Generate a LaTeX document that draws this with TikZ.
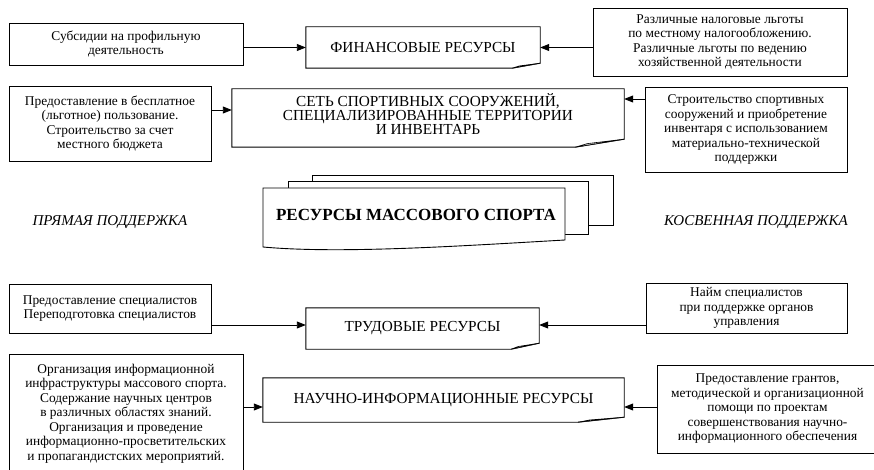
\documentclass[tikz,border=0pt]{standalone}
\usepackage{fontspec}
\setmainfont{Liberation Serif}
\newfontfamily\tms{Liberation Serif}
\usetikzlibrary{arrows.meta}
\tikzset{
  box/.style={draw, line width=0.9pt, inner sep=2pt, align=center, font=\tms\fontsize{13.4pt}{14.5pt}\selectfont},
  res/.style={inner sep=0pt, align=center, font=\tms\fontsize{15.3pt}{14.2pt}\selectfont},
  arr/.style={line width=0.9pt, -{Triangle[length=9pt,width=7pt]}},
  side/.style={font=\tms\fontsize{15pt}{16pt}\selectfont\itshape},
  page/.style={draw, fill=white, line width=0.9pt},
  flap/.style={draw, fill=gray!35, line width=0.6pt, line join=round},
  outline/.style={draw, line width=0.9pt, line join=miter},
}
\newcommand\foldbox[3]{%
  \draw[outline] (#1.north west) -- (#1.north east) -- ([yshift=#3pt]#1.south east)
     -- ([xshift=-#2pt]#1.south east) -- (#1.south west) -- cycle;
  \draw[flap] ([xshift=-#2pt]#1.south east) -- ([xshift=-0.75*#2pt, yshift=0.45*#3pt]#1.south east)
     -- ([yshift=#3pt]#1.south east) -- cycle;
}
\begin{document}
\begin{tikzpicture}[x=1pt,y=-1pt]
\useasboundingbox (0,0) rectangle (874,470);
\clip (0,0) rectangle (874,470);

% row 1
\node[box, minimum width=234pt, minimum height=42pt] (sub) at (126,44) {Субсидии на профильную\\деятельность};
\node[res, minimum width=234pt, minimum height=41pt] (fin) at (423,47.5) {ФИНАНСОВЫЕ РЕСУРСЫ};
\node[box, minimum width=254pt, minimum height=68pt] (razl) at (720,42) {Различные налоговые льготы\\по местному налогообложению.\\Различные льготы по ведению\\хозяйственной деятельности};
\foldbox{fin}{28}{5}

% row 2
\node[box, minimum width=202pt, minimum height=75pt] (pred) at (110,123.5) {Предоставление в бесплатное\\(льготное) пользование.\\Строительство за счет\\местного бюджета};
\node[res, minimum width=392pt, minimum height=58pt] (set) at (428,118) {};
\node[res] (setT) at (428,114) {СЕТЬ СПОРТИВНЫХ СООРУЖЕНИЙ,\\СПЕЦИАЛИЗИРОВАННЫЕ ТЕРРИТОРИИ\\И ИНВЕНТАРЬ};
\node[box, minimum width=202pt, minimum height=85pt] (str) at (746,129.5) {Строительство спортивных\\сооружений и приобретение\\инвентаря с использованием\\материально-технической\\поддержки};
\foldbox{set}{49}{8}

% centre
\draw[page] (312,175) rectangle (613,225);
\draw[page] (288,181) rectangle (588,234);
\draw[page] (263,188) -- (565,188) -- (565,240) .. controls (460,246) and (340,254) .. (263,247) -- cycle;
\node[font=\tms\bfseries\fontsize{17pt}{18pt}\selectfont] (mass) at (416,215) {РЕСУРСЫ МАССОВОГО СПОРТА};
\node[side] (direct) at (110,222) {ПРЯМАЯ ПОДДЕРЖКА};
\node[side] (indirect) at (756,222) {КОСВЕННАЯ ПОДДЕРЖКА};

% row 3
\node[box, minimum width=202pt, minimum height=49pt] (spec) at (110,308.5) {Предоставление специалистов\\Переподготовка специалистов};
\node[res, minimum width=233pt, minimum height=41pt] (trud) at (422.5,328.5) {ТРУДОВЫЕ РЕСУРСЫ};
\node[box, minimum width=201pt, minimum height=50pt] (naym) at (746.5,308) {Найм специалистов\\при поддержке органов\\управления};
\foldbox{trud}{28}{6}

% row 4
\node[box, minimum width=234pt, minimum height=119pt] (org) at (126,413.5) {Организация информационной\\инфраструктуры массового спорта.\\Содержание научных центров\\в различных областях знаний.\\Организация и проведение\\информационно-просветительских\\и пропагандистских мероприятий.};
\node[res, minimum width=361pt, minimum height=44pt] (nauch) at (443.5,400) {НАУЧНО-ИНФОРМАЦИОННЫЕ РЕСУРСЫ};
\node[box, minimum width=221pt, minimum height=88pt] (grant) at (767.5,409) {Предоставление грантов,\\методической и организационной\\помощи по проектам\\совершенствования научно-\\информационного обеспечения};
\foldbox{nauch}{46}{5}

% arrows
\coordinate (p1) at ([yshift=13.5pt]pred.east);
\coordinate (p2) at ([yshift=30.5pt]str.west);
\coordinate (p3) at ([yshift=-16.5pt]spec.east);
\coordinate (p4) at ([yshift=-17pt]naym.west);
\coordinate (p5) at ([yshift=6.5pt]org.east);
\coordinate (p6) at ([yshift=2pt]grant.west);
\draw[arr] (sub.east |- fin.west) -- (fin.west);
\draw[arr] (razl.west |- fin.east) -- (fin.east);
\draw[arr] (p1) -- (p1 -| set.west);
\draw[arr] (p2) -- (p2 -| set.east);
\draw[arr] (p3) -- (p3 -| trud.west);
\draw[arr] (p4) -- (p4 -| trud.east);
\draw[arr] (p5) -- (p5 -| nauch.west);
\draw[arr] (p6) -- (p6 -| nauch.east);
\end{tikzpicture}
\end{document}
